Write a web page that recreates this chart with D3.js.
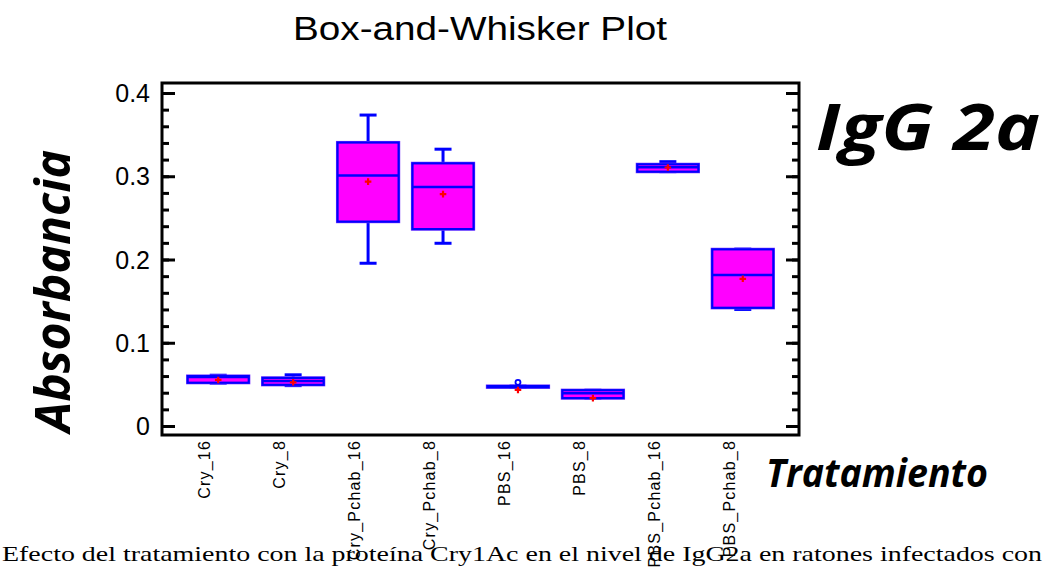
<!DOCTYPE html>
<html>
<head>
<meta charset="utf-8">
<script src="https://cdn.jsdelivr.net/npm/d3@7"></script>
<style>
html,body{margin:0;padding:0;background:#fff;overflow:hidden;}
svg{display:block;}
</style>
</head>
<body>
<svg id="chart" width="1051" height="567"></svg>
<script>
// ---- data ----
const categories = ["Cry_16","Cry_8","Cry_Pchab_16","Cry_Pchab_8","PBS_16","PBS_8","PBS_Pchab_16","PBS_Pchab_8"];
const minValues    = [0.0515, 0.0485, 0.1955, 0.2195, 0.0465, 0.0335, 0.3055, 0.1400];
const q1Values     = [0.0520, 0.0495, 0.2455, 0.2365, 0.0465, 0.0335, 0.3055, 0.1420];
const medianValues = [0.0590, 0.0540, 0.3010, 0.2870, 0.0475, 0.0392, 0.3107, 0.1815];
const q3Values     = [0.0600, 0.0578, 0.3405, 0.3155, 0.0480, 0.0430, 0.3143, 0.2122];
const maxValues    = [0.0610, 0.0615, 0.3735, 0.3325, 0.0480, 0.0430, 0.3175, 0.2125];
const meanValues   = [0.0553, 0.0525, 0.2935, 0.2785, 0.0433, 0.0335, 0.3105, 0.1768];
const outliers     = [{cat:"PBS_16", value:0.0525}];
const yTicks = [0, 0.1, 0.2, 0.3, 0.4];
const yTickLabels = ["0", "0.1", "0.2", "0.3", "0.4"];

const svg = d3.select("#chart");
const L = 162, R = 799, T = 83, B = 435;

const x = d3.scalePoint().domain(categories).range([L, R]).padding(0.75);
const y = d3.scaleLinear().domain([-0.0108, 0.412]).range([B, T]);
const step = x.step();
const bw = step * 0.815;
const capW = 17;

// title
svg.append("text").attr("x", 293).attr("y", 40)
  .style("font-family", "'Liberation Sans', Arial, sans-serif").style("font-size", "34px")
  .attr("fill", "#000").attr("textLength", 374).attr("lengthAdjust", "spacingAndGlyphs")
  .text("Box-and-Whisker Plot");

// boxes
const data = categories.map((c, i) => ({
  c, min: minValues[i], q1: q1Values[i], med: medianValues[i], q3: q3Values[i], max: maxValues[i], mean: meanValues[i]
}));
const g = svg.append("g");
const bx = g.selectAll("g.box").data(data).enter().append("g").attr("class", "box");
// whiskers
bx.append("line").attr("x1", d => x(d.c)).attr("x2", d => x(d.c))
  .attr("y1", d => y(d.q3)).attr("y2", d => y(d.max)).attr("stroke", "#0000ff").attr("stroke-width", 3);
bx.append("line").attr("x1", d => x(d.c)).attr("x2", d => x(d.c))
  .attr("y1", d => y(d.q1)).attr("y2", d => y(d.min)).attr("stroke", "#0000ff").attr("stroke-width", 3);
bx.append("line").attr("x1", d => x(d.c) - capW/2).attr("x2", d => x(d.c) + capW/2)
  .attr("y1", d => y(d.max)).attr("y2", d => y(d.max)).attr("stroke", "#0000ff").attr("stroke-width", 3);
bx.append("line").attr("x1", d => x(d.c) - capW/2).attr("x2", d => x(d.c) + capW/2)
  .attr("y1", d => y(d.min)).attr("y2", d => y(d.min)).attr("stroke", "#0000ff").attr("stroke-width", 3);
// box halo + box
bx.append("rect").attr("x", d => x(d.c) - bw/2).attr("width", bw)
  .attr("y", d => y(d.q3)).attr("height", d => Math.max(0.5, y(d.q1) - y(d.q3)))
  .attr("fill", "#ff00ff").attr("stroke", "#7f3fff").attr("stroke-width", 3.2);
bx.append("rect").attr("x", d => x(d.c) - bw/2).attr("width", bw)
  .attr("y", d => y(d.q3)).attr("height", d => Math.max(0.5, y(d.q1) - y(d.q3)))
  .attr("fill", "#ff00ff").attr("stroke", "#0000ff").attr("stroke-width", 2.2);
// median
bx.append("line").attr("x1", d => x(d.c) - bw/2).attr("x2", d => x(d.c) + bw/2)
  .attr("y1", d => y(d.med)).attr("y2", d => y(d.med)).attr("stroke", "#0000ff").attr("stroke-width", 2.5);
// mean marker
bx.append("path").attr("d", d3.symbol().type(d3.symbolCross).size(24))
  .attr("transform", d => `translate(${x(d.c)},${y(d.mean)})`).attr("fill", "#ff0000");
// outliers
g.selectAll("circle.out").data(outliers).enter().append("circle")
  .attr("cx", d => x(d.cat)).attr("cy", d => y(d.value)).attr("r", 2.5)
  .attr("fill", "none").attr("stroke", "#0000ff").attr("stroke-width", 1.8);

// frame
svg.append("rect").attr("x", L).attr("y", T).attr("width", R - L).attr("height", B - T)
  .attr("fill", "none").attr("stroke", "#000").attr("stroke-width", 3);

// y axes (ticks inward)
const minor = d3.range(0, 0.4001, 0.02);
const axL = d3.axisLeft(y).tickValues(minor).tickSize(-7).tickFormat("");
const axR = d3.axisRight(y).tickValues(minor).tickSize(-7).tickFormat("");
const gl = svg.append("g").attr("transform", `translate(${L},0)`).call(axL);
const gr = svg.append("g").attr("transform", `translate(${R},0)`).call(axR);
const majL = d3.axisLeft(y).tickValues(yTicks).tickSize(-13).tickFormat((d, i) => yTickLabels[i]).tickPadding(12);
const majR = d3.axisRight(y).tickValues(yTicks).tickSize(-13).tickFormat("");
const gml = svg.append("g").attr("transform", `translate(${L},0)`).call(majL);
const gmr = svg.append("g").attr("transform", `translate(${R},0)`).call(majR);
[gl, gr, gml, gmr].forEach(a => {
  a.select(".domain").remove();
  a.selectAll(".tick line").attr("stroke", "#000").attr("stroke-width", 3);
});
gml.selectAll(".tick text").style("font-family", "'Liberation Sans', Arial, sans-serif")
  .style("font-size", "25px").attr("fill", "#000").attr("dy", "0.35em");

// x category labels (rotated)
const xl = svg.append("g");
xl.selectAll("text").data(categories).enter().append("text")
  .attr("transform", d => `translate(${x(d) - 8},440) rotate(-90)`)
  .attr("text-anchor", "end")
  .style("font-family", "'Liberation Sans', Arial, sans-serif").style("font-size", "16px")
  .style("letter-spacing", "1.2px").attr("fill", "#000").text(d => d);

// axis titles
svg.append("text").attr("transform", "translate(70,432) rotate(-90)")
  .style("font-family", "'Open Sans', 'DejaVu Sans', sans-serif").style("font-weight", "700")
  .style("font-style", "italic").style("font-size", "48px").attr("fill", "#000")
  .attr("textLength", 282).attr("lengthAdjust", "spacingAndGlyphs").text("Absorbancia");
svg.append("text").attr("x", 816).attr("y", 150)
  .style("font-family", "'Open Sans', 'DejaVu Sans', sans-serif").style("font-weight", "700")
  .style("font-style", "italic").style("font-size", "64px").attr("fill", "#000")
  .attr("textLength", 224).attr("lengthAdjust", "spacingAndGlyphs").text("IgG 2a");
svg.append("text").attr("x", 766).attr("y", 487)
  .style("font-family", "'Open Sans', 'DejaVu Sans', sans-serif").style("font-weight", "700")
  .style("font-style", "italic").style("font-size", "40px").attr("fill", "#000")
  .attr("textLength", 222).attr("lengthAdjust", "spacingAndGlyphs").text("Tratamiento");

// document caption below the figure
svg.append("text").attr("x", 2).attr("y", 561)
  .style("font-family", "'Liberation Serif', 'Times New Roman', serif").style("font-size", "22px")
  .attr("fill", "#000").attr("textLength", 1040).attr("lengthAdjust", "spacingAndGlyphs")
  .text("Efecto del tratamiento con la proteína Cry1Ac en el nivel de IgG2a en ratones infectados con");
</script>
</body>
</html>
